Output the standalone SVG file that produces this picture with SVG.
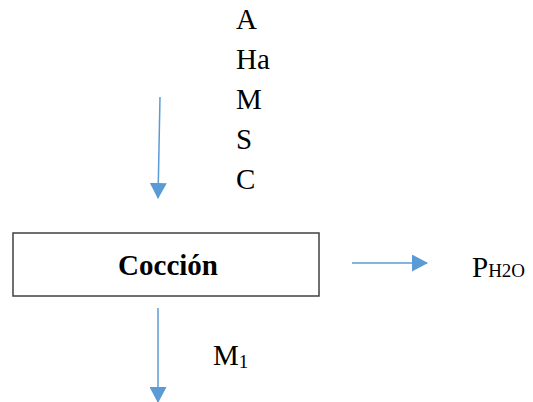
<svg xmlns="http://www.w3.org/2000/svg" width="533" height="402" viewBox="0 0 533 402">
<style>
.c{stroke:#5B9BD5;stroke-width:1.5;fill:none}
</style>
<defs>
<marker id="ah" markerWidth="16" markerHeight="17" refX="15" refY="8.5" orient="auto" markerUnits="userSpaceOnUse" viewBox="0 0 16 17">
<path d="M0,0 L16,8.5 L0,17 z" fill="#5B9BD5"/>
</marker>
</defs>
<rect width="533" height="402" fill="#fff"/>
<g font-family="Liberation Serif, Times New Roman, serif" font-size="29" fill="#000">
<g id="inputs">
<text x="236" y="29">A</text>
<text x="236" y="69">Ha</text>
<text x="236" y="109">M</text>
<text x="236" y="149">S</text>
<text x="236" y="189">C</text>
</g>
<g id="coccion">
<rect x="13" y="233" width="306" height="63" fill="#fff" stroke="#404040" stroke-width="1.5"/>
<text x="168" y="275" text-anchor="middle" font-weight="bold">Cocción</text>
</g>
<g id="output-water">
<text x="472" y="277">P<tspan font-size="19">H2O</tspan></text>
</g>
<g id="output-m1">
<text x="213" y="365">M<tspan font-size="19" dy="3">1</tspan></text>
</g>
</g>
<g id="connectors">
<path class="c" d="M160,97 L158,198" marker-end="url(#ah)"/>
<path class="c" d="M352,263 L427,263" marker-end="url(#ah)"/>
<path class="c" d="M158,308 L158,402" marker-end="url(#ah)"/>
</g>
</svg>
